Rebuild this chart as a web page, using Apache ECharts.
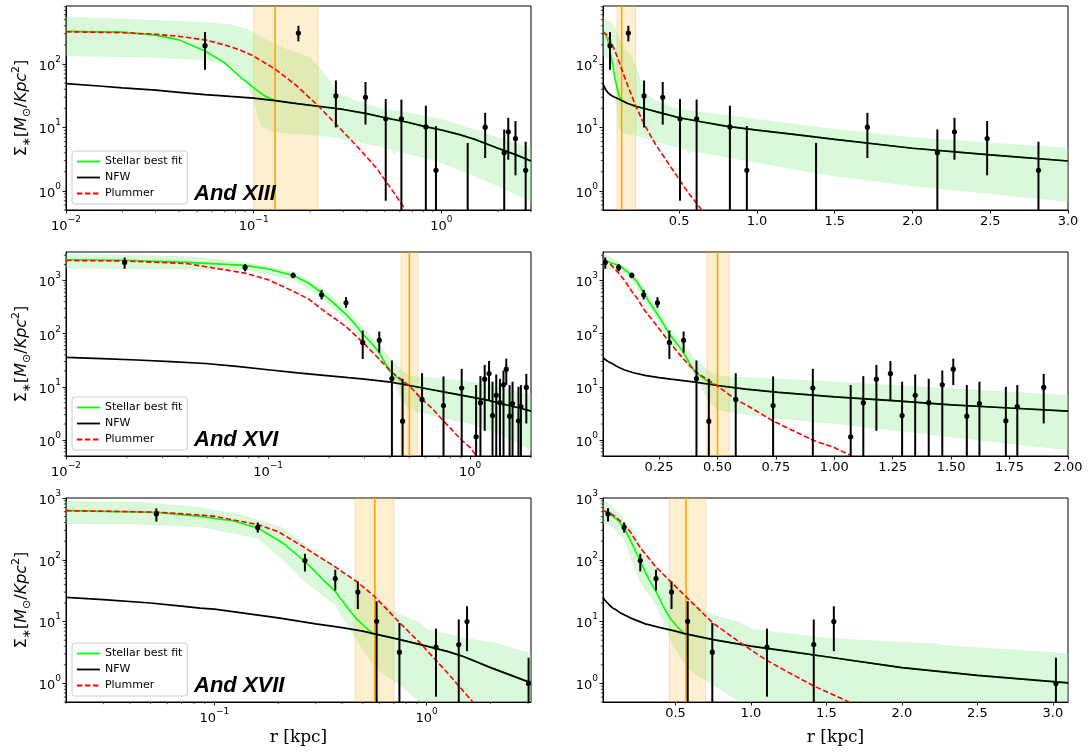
<!DOCTYPE html>
<html><head><meta charset="utf-8">
<script src="https://cdn.jsdelivr.net/npm/echarts@6/dist/echarts.min.js"></script>
<style>html,body{margin:0;padding:0;background:#fff}#c{width:1088px;height:754px}</style>
</head><body><div id="c"></div>
<script>
// ---------------- DATA ----------------
const panelNames = ['And XIII', 'And XVI', 'And XVII'];
const legendNames = ['Stellar best fit', 'NFW', 'Plummer'];
const xName = 'r [kpc]';

// axis ranges and tick labels
const xRange13 = [0.01, 3.0], yRange13 = [0.5, 820];
const xRange16 = [0.01, 2.0], yRange16 = [0.5, 3450];
const xRange17 = [0.02, 3.1], yRange17 = [0.5, 1000];
const yTicks13 = [1, 10, 100];
const yTicks16 = [1, 10, 100, 1000];
const yTicks17 = [1, 10, 100, 1000];
const xLogTicks13 = [0.01, 0.1, 1];
const xLogTicks16 = [0.01, 0.1, 1];
const xLogTicks17 = [0.1, 1];
const xLinTicks13 = [0.5, 1.0, 1.5, 2.0, 2.5, 3.0];
const xLinTicks16 = [0.25, 0.5, 0.75, 1.0, 1.25, 1.5, 1.75, 2.0];
const xLinTicks17 = [0.5, 1.0, 1.5, 2.0, 2.5, 3.0];

// observed points: [r, sigma, errLow, errHigh]
const obs13 = [
  [0.055, 194, 81, 318], [0.173, 307, 227, 400], [0.274, 31.4, 10, 55], [0.394, 29.9, 11.1, 52],
  [0.505, 13.7, 0.70, 28], [0.612, 13.7, 0.1, 27.5], [0.826, 10.2, 0.1, 22], [0.935, 2.11, 0.1, 10.5],
  [1.38, 0.3, 0.1, 5.7], [1.71, 10.1, 3.3, 17], [2.16, 4.0, 0.1, 9.3], [2.27, 8.55, 3.1, 14.2],
  [2.48, 6.7, 1.76, 12.6], [2.81, 2.11, 0.1, 5.95]
];
const obs16 = [
  [0.0195, 2197, 1672, 2723], [0.077, 1771, 1490, 2044], [0.133, 1256, 1110, 1410], [0.184, 540, 441, 668],
  [0.243, 381, 308, 488], [0.294, 68, 33.5, 115], [0.355, 75, 44, 110], [0.41, 14.3, 0.1, 31.3],
  [0.463, 2.26, 0.1, 14.2], [0.578, 5.8, 0.1, 18.1], [0.738, 4.44, 0.1, 15.7], [0.908, 9.48, 0.1, 21.8],
  [1.07, 1.15, 0.1, 10.8], [1.124, 5.05, 0.1, 15.9], [1.18, 13.96, 1.49, 25.9], [1.24, 17.8, 5.58, 30.7],
  [1.29, 2.89, 0.1, 12.5], [1.346, 6.92, 0.1, 17.1], [1.404, 5.05, 0.1, 14.2], [1.462, 10.9, 0.1, 20.3],
  [1.509, 21.5, 10.8, 34], [1.567, 2.81, 0.1, 10.8], [1.621, 4.84, 0.1, 12.5], [1.734, 2.3, 0.1, 10],
  [1.783, 4.25, 0.1, 10.8], [1.896, 9.76, 2.05, 17.6]
];
const obs17 = [
  [0.0533, 552, 415, 681], [0.16, 334, 276, 400], [0.267, 97, 64.8, 125], [0.371, 49.7, 32, 69],
  [0.474, 30, 16, 44.7], [0.581, 10.1, 0.1, 21.3], [0.744, 3.2, 0.1, 9.5], [1.106, 3.86, 0.61, 7.7],
  [1.416, 4.26, 0.1, 10.8], [1.549, 10.0, 3.32, 17.7], [3.02, 1.0, 0.1, 2.6]
];

// NFW curves [r, sigma]
const nfw13 = [[0.01, 49], [0.015, 45], [0.02, 42], [0.03, 38.6], [0.04, 35.8], [0.055, 33], [0.075, 30.8],
  [0.1, 28.9], [0.13, 26.5], [0.17, 23.8], [0.22, 21.6], [0.3, 19.2], [0.4, 16.5], [0.5, 14.2],
  [0.65, 12.2], [0.8, 10.5], [1.0, 9.1], [1.25, 7.7], [1.5, 6.5], [2.0, 4.7], [2.5, 3.7], [3.0, 2.96]];
const nfw16 = [[0.01, 36], [0.015, 34], [0.0225, 32], [0.033, 29.8], [0.049, 27.5], [0.07, 24.2],
  [0.1, 21], [0.14, 18.4], [0.195, 16.3], [0.25, 14.9], [0.3, 14], [0.405, 12.3], [0.5, 10.6],
  [0.62, 9.1], [0.76, 7.9], [1.0, 6.5], [1.25, 5.5], [1.5, 4.6], [1.75, 4.0], [2.0, 3.5]];
const nfw17 = [[0.02, 24.7], [0.03, 22.6], [0.05, 20], [0.07, 17.8], [0.0855, 16.5], [0.1, 15.9],
  [0.14, 13.6], [0.2, 11.5], [0.3, 9.2], [0.4, 8.0], [0.5, 7.0], [0.56, 6.4], [0.75, 5.1], [1.0, 4.0],
  [1.25, 3.3], [1.5, 2.7], [2.0, 1.8], [2.5, 1.35], [3.1, 1.02]];

// Stellar best fit (inner part; joins the NFW curve at its last point)
const stellar13 = [[0.01, 326], [0.02, 318], [0.03, 285], [0.04, 240], [0.055, 160], [0.07, 104],
  [0.085, 62], [0.1, 42], [0.115, 31], [0.13, 26.5]];
const stellar16 = [[0.01, 2460], [0.0195, 2420], [0.04, 2200], [0.077, 1930], [0.1, 1650], [0.133, 1250],
  [0.16, 880], [0.184, 590], [0.21, 380], [0.243, 232], [0.27, 150], [0.294, 98], [0.325, 66],
  [0.354, 44.6], [0.38, 28], [0.405, 19], [0.43, 15.5], [0.46, 12.5], [0.5, 10.6]];
const stellar17 = [[0.02, 625], [0.0533, 585], [0.0855, 505], [0.123, 425], [0.161, 323], [0.211, 185],
  [0.268, 93], [0.326, 47], [0.372, 30.5], [0.42, 17.4], [0.465, 11.3], [0.521, 7.8], [0.56, 6.4]];

// Plummer curves
const plummer13 = [[0.01, 322], [0.02, 311], [0.03, 294], [0.04, 272], [0.055, 240], [0.07, 200],
  [0.085, 165], [0.1, 133], [0.13, 83], [0.17, 45], [0.22, 22], [0.27, 11.8], [0.35, 5.3],
  [0.45, 2.3], [0.55, 1.0], [0.65, 0.48]];
const plummer16 = [[0.01, 2390], [0.0195, 2340], [0.04, 2080], [0.077, 1380], [0.1, 1040], [0.133, 631],
  [0.16, 440], [0.184, 290], [0.242, 138], [0.293, 70], [0.354, 33.5], [0.405, 19.5], [0.46, 13.4],
  [0.5, 10.4], [0.573, 6.0], [0.65, 3.9], [0.736, 2.3], [0.906, 1.0], [1.0, 0.72], [1.075, 0.5]];
const plummer17 = [[0.02, 625], [0.0533, 590], [0.0855, 531], [0.1, 505], [0.161, 370], [0.2, 285],
  [0.268, 155], [0.372, 76], [0.474, 43], [0.569, 25.3], [0.75, 9.4], [0.95, 4.2], [1.1, 2.4],
  [1.25, 1.5], [1.42, 0.9], [1.65, 0.5]];

// uncertainty bands [r, low, high]
const band13 = [[0.01, 135, 547], [0.03, 128, 485], [0.055, 117, 451], [0.075, 97, 415], [0.09, 57, 360],
  [0.1, 27.5, 307], [0.11, 10.5, 260], [0.125, 8.75, 220], [0.15, 8.2, 168], [0.16, 8.0, 160],
  [0.2, 7.8, 124], [0.22, 7.5, 92], [0.25, 7.2, 57], [0.28, 6.9, 35], [0.35, 6.0, 26], [0.46, 5.1, 20.5],
  [0.55, 4.5, 18.5], [0.56, 3.8, 18.4], [0.58, 4.3, 18.2], [1.0, 2.8, 13.4], [1.5, 1.72, 9.3],
  [2.0, 1.2, 6.9], [3.0, 0.68, 4.7]];
const band16 = [[0.01, 1730, 3180], [0.04, 1650, 2800], [0.077, 1600, 2200], [0.133, 1050, 1450],
  [0.184, 475, 735], [0.243, 185, 300], [0.293, 73, 130], [0.354, 33.5, 63], [0.405, 16.4, 33],
  [0.46, 5.6, 20], [0.5, 3.8, 16.4], [0.55, 3.4, 15.5], [0.75, 2.6, 14.1], [1.0, 2.05, 12.3],
  [1.5, 1.15, 9.2], [2.0, 0.65, 6.9]];
const band17 = [[0.02, 382, 884], [0.043, 380, 860], [0.0855, 344, 700], [0.123, 268, 565],
  [0.161, 222, 440], [0.211, 99, 323], [0.268, 44, 173], [0.372, 18.5, 77], [0.474, 4.7, 42],
  [0.58, 1.75, 21], [0.75, 0.94, 12.8], [0.93, 0.5, 9.5], [1.0, 0.45, 7.5], [1.5, 0.3, 5.4],
  [2.0, 0.25, 4.6], [2.24, 0.25, 4.35], [2.26, 0.25, 4.1], [3.1, 0.2, 3.05]];

// half-light radius spans [low, high, centre]
const span13 = [0.10, 0.22, 0.13];
const span16 = [0.455, 0.55, 0.50];
const span17 = [0.46, 0.70, 0.57];

// ---------------- CHART ----------------
const rows = [
  {name: panelNames[0], obs: obs13, nfw: nfw13, st: stellar13, pl: plummer13, band: band13, span: span13,
   xr: xRange13, yr: yRange13, yt: yTicks13, xlt: xLogTicks13, xnt: xLinTicks13, dec: 1},
  {name: panelNames[1], obs: obs16, nfw: nfw16, st: stellar16, pl: plummer16, band: band16, span: span16,
   xr: xRange16, yr: yRange16, yt: yTicks16, xlt: xLogTicks16, xnt: xLinTicks16, dec: 2},
  {name: panelNames[2], obs: obs17, nfw: nfw17, st: stellar17, pl: plummer17, band: band17, span: span17,
   xr: xRange17, yr: yRange17, yt: yTicks17, xlt: xLogTicks17, xnt: xLinTicks17, dec: 1}
];

const FONT = 'DejaVu Sans';
const rowTops = [6, 252, 498];
const colLefts = [66, 603];
const PW = 465, PH = 204;

function supLabel(v) {
  const l = Math.log10(v), e = Math.round(l);
  if (Math.abs(l - e) > 1e-6) return '';
  const s = e < 0 ? '\u2212' + (-e) : String(e);
  return '{b|10}{e|' + s + '}';
}
const richSup = {
  b: {fontSize: 13, fontFamily: FONT, color: '#000', verticalAlign: 'bottom', padding: [5, 0, 0, 0]},
  e: {fontSize: 9, fontFamily: FONT, color: '#000', verticalAlign: 'top'}
};

function minorVals(min, max) {
  const out = [];
  for (let e = Math.floor(Math.log10(min)); e <= Math.ceil(Math.log10(max)); e++) {
    for (let m = 2; m <= 9; m++) {
      const v = m * Math.pow(10, e);
      if (v >= min * 0.9999 && v <= max * 1.0001) out.push(v);
    }
  }
  return out;
}

function bandRender(band) {
  return function (params, api) {
    if (params.dataIndex !== 0) return null;
    const up = band.map(p => api.coord([p[0], p[2]]));
    const lo = band.slice().reverse().map(p => api.coord([p[0], p[1]]));
    return {type: 'polygon', shape: {points: up.concat(lo)},
      style: {fill: 'rgba(144,238,144,0.33)', stroke: 'rgba(144,238,144,0.2)', lineWidth: 1}};
  };
}
function spanRender(params, api) {
  const cs = params.coordSys;
  const x0 = api.coord([api.value(0), 1])[0];
  const x1 = api.coord([api.value(1), 1])[0];
  const xc = api.coord([api.value(2), 1])[0];
  return {type: 'group', children: [
    {type: 'rect', shape: {x: x0, y: cs.y, width: x1 - x0, height: cs.height},
      style: {fill: 'rgba(255,165,0,0.18)', stroke: 'rgba(255,165,0,0.3)', lineWidth: 1}},
    {type: 'line', shape: {x1: xc, y1: cs.y, x2: xc, y2: cs.y + cs.height},
      style: {stroke: '#ffa500', lineWidth: 1.6}}
  ]};
}
function errRender(params, api) {
  const r = api.value(0);
  const c = api.coord([r, api.value(1)]);
  const a = api.coord([r, api.value(2)]);
  const b = api.coord([r, api.value(3)]);
  return {type: 'group', children: [
    {type: 'line', shape: {x1: a[0], y1: a[1], x2: b[0], y2: b[1]}, style: {stroke: '#000', lineWidth: 2}},
    {type: 'circle', shape: {cx: c[0], cy: c[1], r: 2.6}, style: {fill: '#000'}}
  ]};
}
function minorRender(params, api) {
  const p = api.coord([api.value(0), api.value(1)]);
  const k = api.value(2);
  const shape = k === 0 ? {x1: p[0], y1: p[1], x2: p[0], y2: p[1] + 2.2}
                        : {x1: p[0] - 2.2, y1: p[1], x2: p[0], y2: p[1]};
  return {type: 'line', shape: shape, style: {stroke: '#000', lineWidth: 0.7}};
}

const grids = [], xAxes = [], yAxes = [], series = [], legends = [], graphics = [];

rows.forEach((R, ri) => {
  [0, 1].forEach(col => {
    const gi = ri * 2 + col;
    grids.push({left: colLefts[col], top: rowTops[ri], width: PW, height: PH, show: true,
      borderColor: '#000', borderWidth: 1, backgroundColor: 'transparent', containLabel: false,
      outerBoundsMode: 'none'});
    const isLog = col === 0;
    const xa = {
      type: isLog ? 'log' : 'value', logBase: 10, gridIndex: gi, min: R.xr[0], max: R.xr[1],
      axisLine: {show: true, onZero: false, lineStyle: {color: '#000', width: 1}},
      axisTick: {show: true, length: 3.5, lineStyle: {color: '#000', width: 0.9},
        customValues: isLog ? R.xlt : R.xnt},
      splitLine: {show: false},
      axisLabel: {customValues: isLog ? R.xlt : R.xnt, margin: 5, color: '#000',
        fontFamily: FONT, fontSize: 13,
        formatter: isLog ? supLabel : (v => Number(v).toFixed(R.dec)), rich: richSup,
        showMinLabel: true, showMaxLabel: true}
    };
    if (ri === 2) {
      xa.name = xName; xa.nameLocation = 'middle'; xa.nameGap = 27;
      xa.nameTextStyle = {fontFamily: 'DejaVu Serif', fontSize: 17, color: '#000'};
    }
    xAxes.push(xa);
    const ya = {
      type: 'log', logBase: 10, gridIndex: gi, min: R.yr[0], max: R.yr[1],
      axisLine: {show: true, onZero: false, lineStyle: {color: '#000', width: 1}},
      axisTick: {show: true, length: 3.5, lineStyle: {color: '#000', width: 0.9}, customValues: R.yt},
      splitLine: {show: false},
      axisLabel: {customValues: R.yt, margin: 5, color: '#000', fontFamily: FONT, fontSize: 13,
        formatter: supLabel, rich: richSup}
    };
    if (col === 0) {
      ya.name = '{n|Σ}{s|∗}{n|[}{i|M}{s|⊙}{n|/}{i|Kpc}{p|2}{n|]}';
      ya.nameLocation = 'middle'; ya.nameGap = 33; ya.nameRotate = 90;
      ya.nameTextStyle = {fontFamily: FONT, fontSize: 16, color: '#000', rich: {
        n: {fontFamily: FONT, fontSize: 16, color: '#000', verticalAlign: 'middle', padding: [3, 0, 3, 0]},
        i: {fontFamily: FONT, fontSize: 16, fontStyle: 'italic', color: '#000', verticalAlign: 'middle', padding: [3, 0, 3, 0]},
        s: {fontFamily: FONT, fontSize: 11, color: '#000', verticalAlign: 'bottom'},
        p: {fontFamily: FONT, fontSize: 11, color: '#000', verticalAlign: 'top'}
      }};
    }
    yAxes.push(ya);

    const stFull = R.st.concat(R.nfw.filter(p => p[0] > R.st[R.st.length - 1][0]));
    series.push({type: 'custom', xAxisIndex: gi, yAxisIndex: gi, clip: true, z: 1, silent: true,
      data: R.band, renderItem: bandRender(R.band)});
    series.push({type: 'custom', xAxisIndex: gi, yAxisIndex: gi, clip: true, z: 2, silent: true,
      data: [R.span], renderItem: spanRender});
    series.push({type: 'line', name: legendNames[0], xAxisIndex: gi, yAxisIndex: gi, data: stFull,
      symbol: 'none', showSymbol: false, clip: true, z: 3, silent: true,
      lineStyle: {color: '#00ff00', width: 1.6}, itemStyle: {color: '#00ff00'}});
    series.push({type: 'line', name: legendNames[1], xAxisIndex: gi, yAxisIndex: gi, data: R.nfw,
      symbol: 'none', showSymbol: false, clip: true, z: 3, silent: true,
      lineStyle: {color: '#000', width: 1.7}, itemStyle: {color: '#000'}});
    series.push({type: 'line', name: legendNames[2], xAxisIndex: gi, yAxisIndex: gi, data: R.pl,
      symbol: 'none', showSymbol: false, clip: true, z: 3, silent: true,
      lineStyle: {color: '#ff0000', width: 1.6, type: [5.5, 2.5]}, itemStyle: {color: '#ff0000'}});
    series.push({type: 'custom', xAxisIndex: gi, yAxisIndex: gi, clip: true, z: 5, silent: true,
      data: R.obs, renderItem: errRender});
    const minor = [];
    if (isLog) minorVals(R.xr[0], R.xr[1]).forEach(v => minor.push([v, R.yr[0], 0]));
    minorVals(R.yr[0], R.yr[1]).forEach(v => minor.push([R.xr[0], v, 1]));
    series.push({type: 'custom', xAxisIndex: gi, yAxisIndex: gi, clip: false, z: 6, silent: true,
      data: minor, renderItem: minorRender});
  });
  legends.push({show: true, orient: 'vertical', left: 72, top: rowTops[ri] + 145, z: 10,
    data: legendNames, itemWidth: 23, itemHeight: 11, itemGap: 5, padding: [5, 5, 5, 4],
    itemStyle: {opacity: 0}, lineStyle: {width: 1.8},
    backgroundColor: 'rgba(255,255,255,0.85)', borderColor: '#cccccc', borderWidth: 1, borderRadius: 3,
    textStyle: {fontFamily: FONT, fontSize: 11, color: '#000'}, selectedMode: false});
  graphics.push({type: 'text', x: 194, y: rowTops[ri] + PH - 5, z: 20,
    style: {text: R.name, font: 'italic bold 22px "Liberation Sans"', fill: '#000',
      textAlign: 'left', textVerticalAlign: 'bottom', align: 'left', verticalAlign: 'bottom'}});
});

const chart = echarts.init(document.getElementById('c'), null, {renderer: 'canvas'});
chart.setOption({
  animation: false,
  backgroundColor: '#fff',
  grid: grids, xAxis: xAxes, yAxis: yAxes, series: series, legend: legends, graphic: graphics
});
</script></body></html>
